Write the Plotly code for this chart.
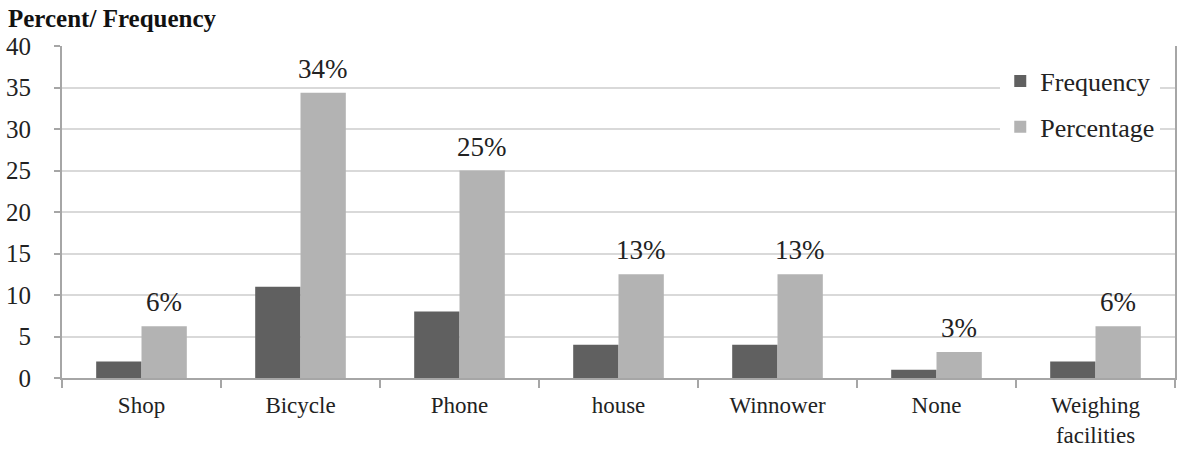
import plotly.graph_objects as go

categories = ["Shop", "Bicycle", "Phone", "house", "Winnower", "None", "Weighing facilities"]
tick_text = ["Shop", "Bicycle", "Phone", "house", "Winnower", "None", "Weighing<br>facilities"]
frequency = [2, 11, 8, 4, 4, 1, 2]
percentage = [6.25, 34.375, 25, 12.5, 12.5, 3.125, 6.25]
pct_labels = ["6%", "34%", "25%", "13%", "13%", "3%", "6%"]

serif = "Liberation Serif, Times New Roman, serif"
dark = "#606060"
light = "#b3b3b3"
axis_grey = "#a6a6a6"
bargap = 0.43

fig = go.Figure()
fig.add_trace(go.Bar(name="Frequency", x=categories, y=frequency, legendgroup="f",
                     marker=dict(color=dark, line=dict(width=0))))
fig.add_trace(go.Bar(name="Percentage", x=categories, y=percentage, legendgroup="p",
                     marker=dict(color=light, line=dict(width=0))))

# percentage labels above the light bars
bar_w = (1 - bargap) / 2
for i, (v, t) in enumerate(zip(percentage, pct_labels)):
    fig.add_annotation(x=i + bar_w / 2, y=v, xref="x", yref="y", text=t,
                       showarrow=False, yanchor="bottom", yshift=7,
                       font=dict(family=serif, size=27, color="#222222"))

fig.update_layout(
    width=1177, height=450,
    margin=dict(l=62, r=2, t=46, b=72, autoexpand=False),
    paper_bgcolor="white", plot_bgcolor="white",
    barmode="group", bargap=bargap, bargroupgap=0,
    font=dict(family=serif, size=24, color="#222222"),
    title=dict(text="<b>Percent/ Frequency</b>", xref="container", yref="container",
               x=8 / 1177, xanchor="left", y=1 - 18 / 450, yanchor="middle",
               font=dict(family=serif, size=25, color="#111111")),
    legend=dict(x=0.843, y=0.965, xanchor="left", yanchor="top",
                bgcolor="white", font=dict(family=serif, size=26, color="#222222"),
                tracegroupgap=9, itemwidth=30),
    showlegend=True,
)
fig.update_yaxes(range=[0, 40], dtick=5, showgrid=True, gridcolor="#d9d9d9", gridwidth=2,
                 showline=True, mirror=True, linecolor=axis_grey, linewidth=2,
                 ticks="outside", ticklen=6, tickcolor=axis_grey, tickwidth=2,
                 ticklabelstandoff=18, tickfont=dict(family=serif, size=25, color="#222222"),
                 zeroline=False, automargin=False)
fig.update_xaxes(showline=True, linecolor=axis_grey, linewidth=2,
                 tickmode="array", tickvals=categories, ticktext=tick_text,
                 ticks="outside", tickson="boundaries", ticklen=8, tickcolor=axis_grey,
                 tickwidth=2, ticklabelstandoff=5, automargin=False,
                 tickfont=dict(family=serif, size=23, color="#222222"))

fig.write_html("out.html")
